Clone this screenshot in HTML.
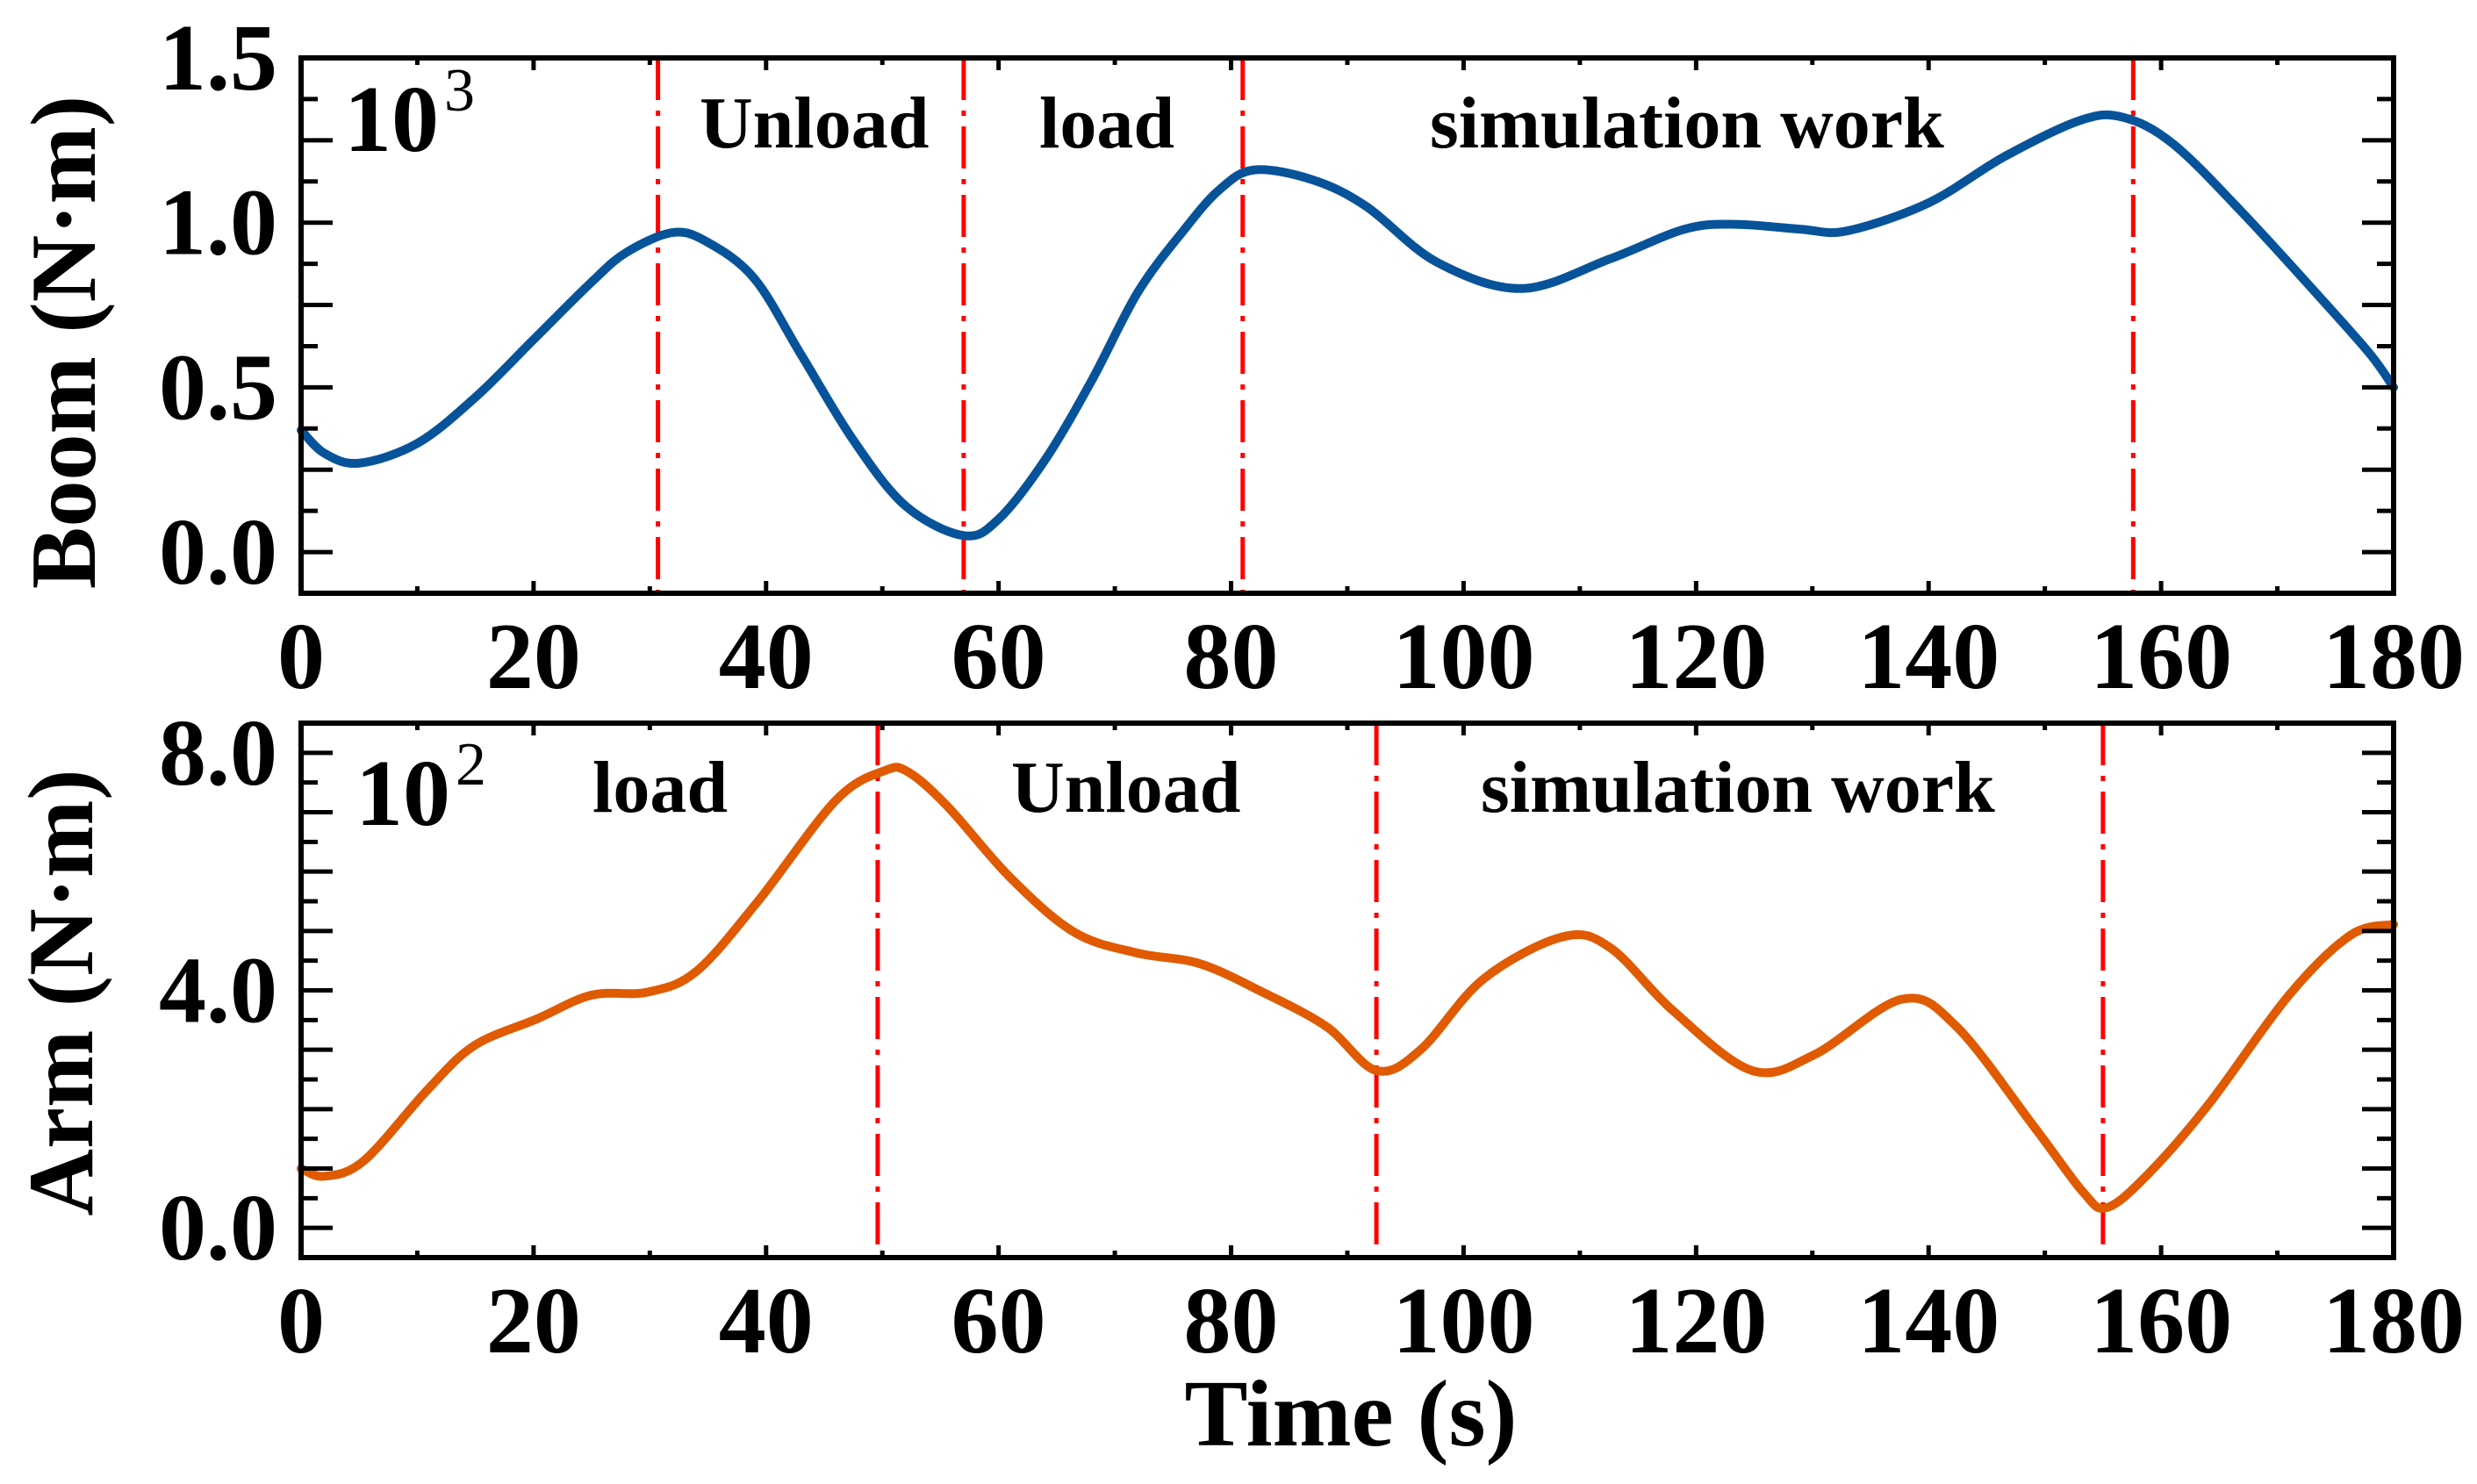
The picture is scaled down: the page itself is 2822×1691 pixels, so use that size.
<!DOCTYPE html>
<html><head><meta charset="utf-8"><style>
html,body{margin:0;padding:0;background:#fff;}
svg{display:block;font-family:"Liberation Serif",serif;font-weight:bold;}
</style></head><body>
<svg id="chart" width="2822" height="1691" viewBox="0 0 2822 1691" xmlns="http://www.w3.org/2000/svg"></svg>
<script>
const boomTimes=[0,2,5,10,15,20,25,28,32,35,39,43,47.5,52,57,60,64,68,72,76,79,82,87,91.6,97.7,105,112.6,119,123.4,129,133,140,146.5,153,156.7,161,167,174,178,180];
const boomValues=[0.37,0.3,0.27,0.33,0.47,0.645,0.82,0.91,0.97,0.94,0.83,0.6,0.34,0.14,0.05,0.1,0.28,0.52,0.79,0.98,1.1,1.16,1.13,1.05,0.88,0.80,0.89,0.98,0.995,0.98,0.975,1.06,1.2,1.31,1.32,1.24,1.03,0.76,0.6,0.50];
const armTimes=[0,2,5.4,10.9,14.9,20.3,25,29.8,34,39.3,46,50.2,52.2,55.6,61,66.5,71.9,77.3,82.7,88.2,92.5,96.3,101.7,108.5,112.6,118,124.8,130.2,137.7,142.4,149.2,153.3,155.3,158.7,164,171,176.3,180];
const armValues=[1.0,0.87,1.13,2.33,3.07,3.52,3.92,3.97,4.32,5.5,7.2,7.7,7.68,7.1,5.9,4.98,4.63,4.45,3.97,3.39,2.65,3.0,4.19,4.9,4.72,3.66,2.65,2.92,3.85,3.39,1.67,0.6,0.34,0.87,2.06,3.92,4.93,5.11];
const xTickLabels=["0","20","40","60","80","100","120","140","160","180"];
const boomTickLabels=["0.0","0.5","1.0","1.5"];
const armTickLabels=["0.0","4.0","8.0"];
const boomPhaseLines=[30.7,57,81,157.6];
const armPhaseLines=[49.6,92.5,155];
const boomPhaseNames=["Unload","load","simulation work"];
const armPhaseNames=["load","Unload","simulation work"];

const NS="http://www.w3.org/2000/svg";
const svg=document.getElementById('chart');
function el(tag,attrs,parent,text){const e=document.createElementNS(NS,tag);for(const k in attrs)e.setAttribute(k,attrs[k]);if(text!==undefined)e.textContent=text;(parent||svg).appendChild(e);return e;}
const L=343,R=2727;
const xs=t=>L+(t-0)/(180-0)*(R-L);

function smoothPath(px,py){let d=`M${px[0]},${py[0]}`;for(let i=0;i<px.length-1;i++){const x0=px[Math.max(i-1,0)],y0=py[Math.max(i-1,0)],x1=px[i],y1=py[i],x2=px[i+1],y2=py[i+1],x3=px[Math.min(i+2,px.length-1)],y3=py[Math.min(i+2,px.length-1)];const c1x=x1+(x2-x0)/6,c1y=y1+(y2-y0)/6,c2x=x2-(x3-x1)/6,c2y=y2-(y3-y1)/6;d+=` C${c1x},${c1y} ${c2x},${c2y} ${x2},${y2}`;}return d;}

function panel(o){
  const g=el('g',{});
  
  
  const ys=v=>o.B-(v-o.ymin)/(o.ymax-o.ymin)*(o.B-o.T);
  o.lines.forEach(t=>{const ln=el('line',{x1:xs(t),x2:xs(t),y1:o.T,y2:o.B,stroke:'#ff0000','stroke-width':5,'stroke-dasharray':'48 12 6 12'},g);
    
    });
  const p=el('path',{d:smoothPath(o.t.map(xs),o.v.map(ys)),fill:'none',stroke:o.color,'stroke-width':10,'stroke-linejoin':'round','stroke-linecap':'round'},g);
  
  
  for(let v=o.ymin+o.minor;v<o.ymax-1e-6;v+=o.minor){const major=Math.abs(Math.round(v/o.major)*o.major-v)<1e-6;const len=major?36:19;
    el('line',{x1:L,x2:L+len,y1:ys(v),y2:ys(v),stroke:'#000','stroke-width':5},g);
    el('line',{x1:R,x2:R-len,y1:ys(v),y2:ys(v),stroke:'#000','stroke-width':5},g);}
  for(let t=10;t<180;t+=10){const len=t%20===0?14:8;
    el('line',{x1:xs(t),x2:xs(t),y1:o.B,y2:o.B-len,stroke:'#000','stroke-width':5},g);
    el('line',{x1:xs(t),x2:xs(t),y1:o.T,y2:o.T+len,stroke:'#000','stroke-width':5},g);}
  const fr=el('rect',{x:L,y:o.T,width:R-L,height:o.B-o.T,fill:'none',stroke:'#000','stroke-width':6},g);
  
  
  o.ylabels.forEach((s,i)=>{const tx=el('text',{x:316,y:ys(o.ylabelVals[i])+36,'text-anchor':'end','font-size':108},g,s);
    
    });
  xTickLabels.forEach((s,i)=>{const tx=el('text',{x:xs(i*20),y:o.B+108,'text-anchor':'middle','font-size':108},g,s);
    
    });
  const yt=el('text',{x:0,y:0,transform:`translate(${o.titleX},${o.titleY}) rotate(-90)`,'text-anchor':'middle','font-size':106},g,o.title);
  
  
  const m=el('text',{x:o.mulX,y:o.mulY,'font-size':108},g);
  
  
  el('tspan',{},m,'10');el('tspan',{dx:6,dy:-46,'font-size':70,'font-weight':'normal'},m,o.exp);
  o.names.forEach((s,i)=>{const tx=el('text',{x:o.nameX[i],y:o.nameY,'font-size':84},g,s);
    
    });
}
panel({name:'boom-panel',T:66,B:676,ymin:-0.125,ymax:1.5,minor:0.125,major:0.25,t:boomTimes,v:boomValues,color:'#07539a',lines:boomPhaseLines,
  ylabels:boomTickLabels,ylabelVals:[0,0.5,1.0,1.5],title:'Boom (N·m)',titleX:108,titleY:390,mulX:392,mulY:172,exp:'3',
  names:boomPhaseNames,nameX:[797,1184,1629],nameY:168});
panel({name:'arm-panel',T:824,B:1433,ymin:-0.5,ymax:8.5,minor:0.5,major:1,t:armTimes,v:armValues,color:'#e05a00',lines:armPhaseLines,
  ylabels:armTickLabels,ylabelVals:[0,4,8],title:'Arm (N·m)',titleX:105,titleY:1131,mulX:405,mulY:940,exp:'2',
  names:armPhaseNames,nameX:[675,1152,1687],nameY:925});
const xt=el('text',{x:1539,y:1647,'text-anchor':'middle','font-size':108},svg,'Time (s)');


</script>
</body></html>
